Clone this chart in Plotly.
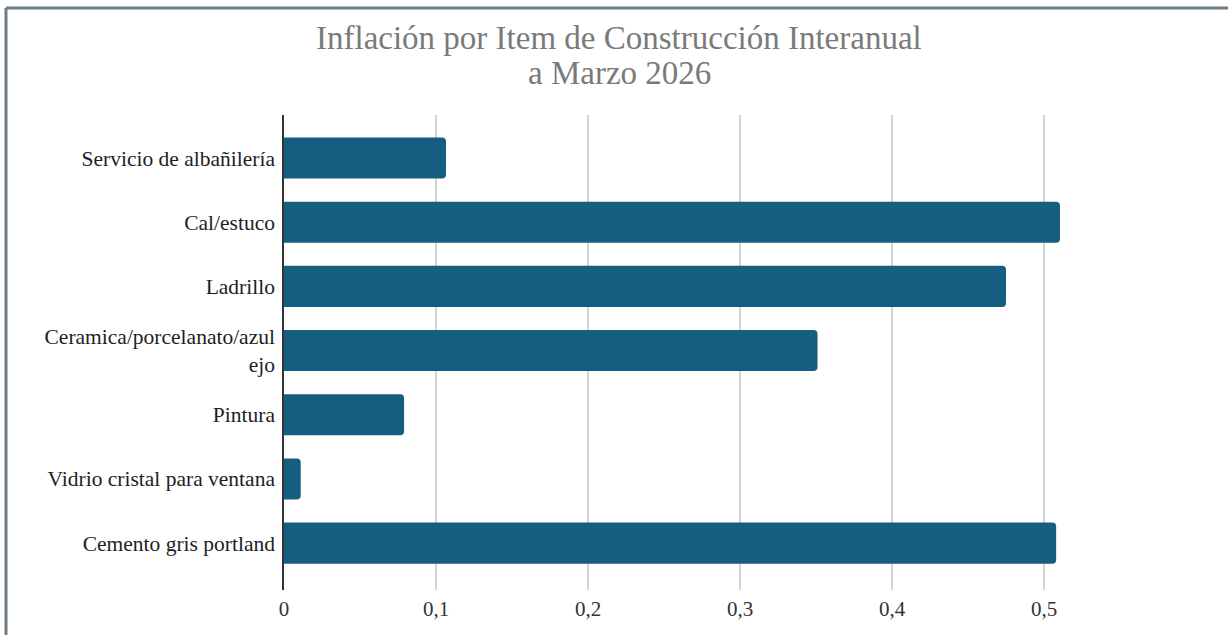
import plotly.graph_objects as go

categories = [
    "Servicio de albañilería",
    "Cal/estuco",
    "Ladrillo",
    "Ceramica/porcelanato/azul<br>ejo",
    "Pintura",
    "Vidrio cristal para ventana",
    "Cemento gris portland",
]
values = [0.1066, 0.5105, 0.475, 0.351, 0.079, 0.011, 0.508]
tick_vals = [0, 0.1, 0.2, 0.3, 0.4, 0.5]
tick_text = ["0", "0,1", "0,2", "0,3", "0,4", "0,5"]
title_lines = ["Inflación por Item de Construcción Interanual", "a Marzo 2026"]

W, H = 1228, 635
L, R, T, B = 284, 108, 115, 45
pw, ph = W - L - R, H - T - B


def px_x(x):
    return (x - L) / pw


def px_y(y):
    return (H - B - y) / ph


fig = go.Figure(go.Bar(
    y=categories[::-1],
    x=values[::-1],
    orientation="h",
    marker=dict(color="#165e80", cornerradius=4, line=dict(width=0)),
    hoverinfo="x+y",
))

serif = "Liberation Serif"

fig.update_layout(
    width=W, height=H,
    margin=dict(l=L, r=R, t=T, b=B),
    paper_bgcolor="white", plot_bgcolor="white",
    bargap=0.36,
    showlegend=False,
    font=dict(family=serif),
    xaxis=dict(
        range=[0, 0.55],
        tickvals=tick_vals, ticktext=tick_text,
        showgrid=True, gridcolor="#d3d3d3", gridwidth=2,
        zeroline=False, showline=False, ticks="",
        ticklabelstandoff=4,
        tickfont=dict(family=serif, size=21, color="#333333"),
        fixedrange=True,
    ),
    yaxis=dict(
        range=[-0.73, 6.67],
        showgrid=False, zeroline=False,
        showline=True, linecolor="#333333", linewidth=1.5,
        ticks="", ticklabelstandoff=3,
        tickfont=dict(family=serif, size=21.5, color="#1e1e1e"),
        fixedrange=True,
    ),
    annotations=[
        dict(text=title_lines[0], xref="paper", yref="paper",
             x=px_x(619), y=px_y(38), xanchor="center", yanchor="middle",
             showarrow=False, font=dict(family=serif, size=33, color="#7a7a7a")),
        dict(text=title_lines[1], xref="paper", yref="paper",
             x=px_x(619), y=px_y(73), xanchor="center", yanchor="middle",
             showarrow=False, font=dict(family=serif, size=33, color="#7a7a7a")),
    ],
    shapes=[
        dict(type="line", xref="paper", yref="paper",
             x0=px_x(6), x1=px_x(W + 10),
             y0=px_y(8), y1=px_y(8),
             line=dict(color="#6e7c86", width=3)),
        dict(type="line", xref="paper", yref="paper",
             x0=px_x(6), x1=px_x(6),
             y0=px_y(8), y1=px_y(H + 10),
             line=dict(color="#6e7c86", width=3)),
    ],
)

fig.write_html("out.html", config={"displayModeBar": False},
               post_script="document.body.style.margin='0px';")
